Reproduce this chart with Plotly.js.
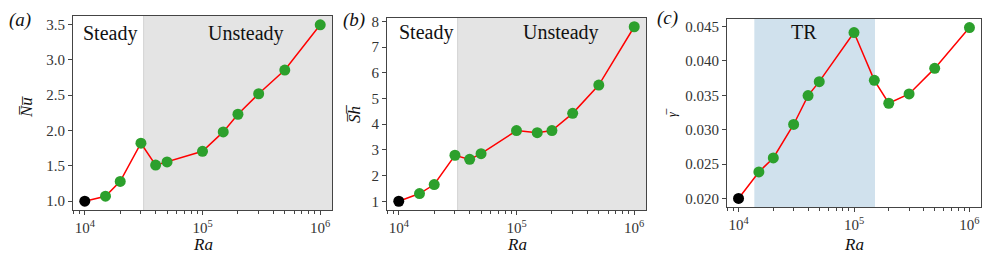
<!DOCTYPE html>
<html>
<head>
<meta charset="utf-8">
<script src="https://cdn.plot.ly/plotly-3.0.1.min.js"></script>
<style>html,body{margin:0;padding:0;background:#fff;}#chart{width:997px;height:260px;}</style>
</head>
<body>
<div id="chart"></div>
<script>
// ---- data ----
const Ra = [1e4, 1.5e4, 2e4, 3e4, 4e4, 5e4, 1e5, 1.5e5, 2e5, 3e5, 5e5, 1e6];
const Nu = [1.0, 1.07, 1.28, 1.82, 1.51, 1.555, 1.705, 1.98, 2.23, 2.52, 2.855, 3.495];
const Sh = [1.0, 1.30, 1.65, 2.79, 2.63, 2.85, 3.75, 3.67, 3.75, 4.42, 5.52, 7.79];
const gam = [0.0200, 0.02386, 0.02589, 0.03076, 0.03496, 0.03699, 0.04413, 0.03718, 0.03385, 0.03520, 0.03892, 0.04486];
const steadyLimit = 3.16e4;          // Steady / Unsteady boundary
const trRange = [1.37e4, 1.52e5];    // TR band
const xTickVals = [1e4, 1e5, 1e6];
const xTickText = ['10<sup>4</sup>', '10<sup>5</sup>', '10<sup>6</sup>'];
const yTicksA = [1.0, 1.5, 2.0, 2.5, 3.0, 3.5];
const yTicksB = [1, 2, 3, 4, 5, 6, 7, 8];
const yTicksC = [0.020, 0.025, 0.030, 0.035, 0.040, 0.045];
const panelLabels = ['(a)', '(b)', '(c)'];

// ---- styling ----
const FONT = 'Liberation Serif';
const GREEN = '#2ca02c';
const markerColors = Ra.map((r, i) => i === 0 ? '#000000' : GREEN);
const minorVals = [];
[3, 4, 5].forEach(e => { for (let k = 2; k <= 9; k++) minorVals.push(k * Math.pow(10, e)); });
minorVals.push(8e3, 9e3);

function trace(y, xa, ya) {
  return {
    x: Ra, y: y, xaxis: xa, yaxis: ya, type: 'scatter', mode: 'lines+markers',
    line: {color: '#ff0000', width: 1.5},
    marker: {color: markerColors, size: 11, line: {width: 0}},
    hoverinfo: 'skip', showlegend: false, cliponaxis: false
  };
}

function frame() {
  return {
    showline: true, mirror: true, linecolor: '#444', linewidth: 1,
    showgrid: false, zeroline: false, ticks: 'outside', ticklen: 4, tickwidth: 1, tickcolor: '#444',
    tickfont: {family: FONT, size: 15, color: '#333'}
  };
}
function xax(domain, anchor) {
  return Object.assign(frame(), {
    type: 'log', domain: domain, anchor: anchor, range: [3.9, 6.1],
    tickmode: 'array', tickvals: xTickVals, ticktext: xTickText,
    minor: {tickmode: 'array', tickvals: minorVals, ticks: 'outside', ticklen: 2.5, tickwidth: 1, tickcolor: '#444'}
  });
}
function yax(domain, anchor, range, vals, fmt) {
  return Object.assign(frame(), {
    domain: domain, anchor: anchor, range: range,
    tickmode: 'array', tickvals: vals, ticktext: vals.map(v => v.toFixed(fmt))
  });
}

const dA = [73/997, 332/997], dB = [387/997, 646/997], dC = [727/997, 981/997];
const yA = [50/260, 244/260], yB = [50/260, 242/260], yC = [53/260, 241/260];

const layout = {
  width: 997, height: 260, margin: {l: 0, r: 0, t: 0, b: 0},
  paper_bgcolor: '#fff', plot_bgcolor: '#fff', showlegend: false,
  font: {family: FONT, color: '#222'},
  xaxis: xax(dA, 'y'), yaxis: yax(yA, 'x', [0.875, 3.62], yTicksA, 1),
  xaxis2: xax(dB, 'y2'), yaxis2: yax(yB, 'x2', [0.66, 8.13], yTicksB, 0),
  xaxis3: xax(dC, 'y3'), yaxis3: yax(yC, 'x3', [0.01876, 0.0461], yTicksC, 3),
  shapes: [
    {type: 'rect', xref: 'x', yref: 'y domain', x0: steadyLimit, x1: Math.pow(10, 6.1), y0: 0, y1: 1,
     fillcolor: '#e4e4e4', line: {width: 0}, layer: 'below'},
    {type: 'line', xref: 'x', yref: 'y domain', x0: steadyLimit, x1: steadyLimit, y0: 0, y1: 1,
     line: {color: '#d4d4d4', width: 1}, layer: 'below'},
    {type: 'rect', xref: 'x2', yref: 'y2 domain', x0: steadyLimit, x1: Math.pow(10, 6.1), y0: 0, y1: 1,
     fillcolor: '#e4e4e4', line: {width: 0}, layer: 'below'},
    {type: 'line', xref: 'x2', yref: 'y2 domain', x0: steadyLimit, x1: steadyLimit, y0: 0, y1: 1,
     line: {color: '#d4d4d4', width: 1}, layer: 'below'},
    {type: 'rect', xref: 'x3', yref: 'y3 domain', x0: trRange[0], x1: trRange[1], y0: 0, y1: 1,
     fillcolor: '#d0e1ed', line: {width: 0}, layer: 'below'}
  ],
  annotations: []
};

function ann(text, x, y, size, extra) {
  layout.annotations.push(Object.assign({
    text: text, xref: 'paper', yref: 'paper', x: x / 997, y: 1 - y / 260,
    xanchor: 'center', yanchor: 'middle', showarrow: false,
    font: {family: FONT, size: size, color: '#111'}
  }, extra || {}));
}
// region labels
ann('Steady', 110, 33, 20);
ann('Unsteady', 245.5, 33, 20);
ann('Steady', 425.7, 32, 20);
ann('Unsteady', 561, 32, 20);
ann('TR', 804, 32, 20);
// panel labels
ann('<i>' + panelLabels[0] + '</i>', 20, 20, 19);
ann('<i>' + panelLabels[1] + '</i>', 354, 20, 19);
ann('<i>' + panelLabels[2] + '</i>', 667.5, 18, 19);
// x titles
[(73+332)/2, (387+646)/2, (727+981)/2].forEach(cx => ann('<i>Ra</i>', cx, 244, 17));
// y titles
ann('<i>N\u0305u\u0305</i>', 26, 107, 17, {textangle: -90});
ann('<i>S\u0305h\u0305</i>', 354, 114, 17, {textangle: -90});
ann('<i>\u03b3\u0305</i>', 672, 113, 12, {textangle: -90});

const data = [trace(Nu, 'x', 'y'), trace(Sh, 'x2', 'y2'), trace(gam, 'x3', 'y3')];
Plotly.newPlot('chart', data, layout, {staticPlot: true, displayModeBar: false});
</script>
</body>
</html>
